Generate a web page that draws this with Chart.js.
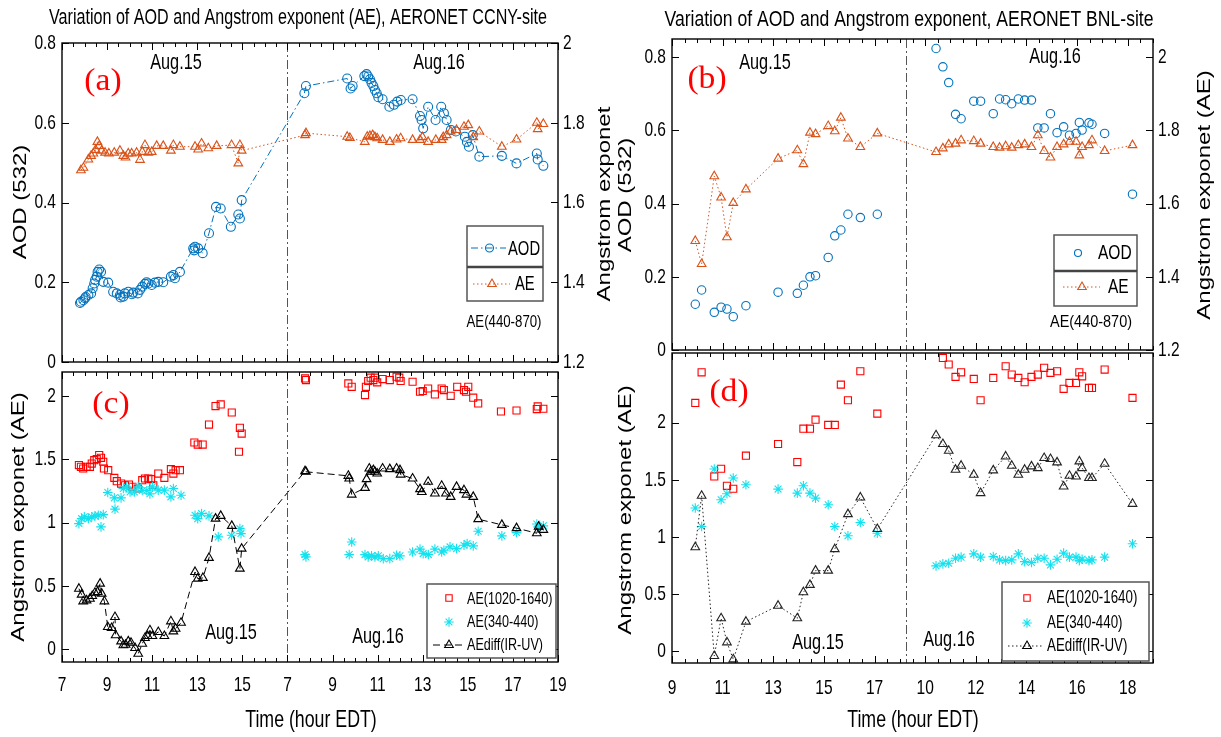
<!DOCTYPE html>
<html lang="en">
<head>
<meta charset="utf-8" />
<title>AOD and Angstrom exponent, AERONET CCNY / BNL</title>
<style>
    html, body { margin: 0; padding: 0; background: #fff; }
    #wrap { position: relative; width: 1221px; height: 737px; }
    #wrap canvas { position: absolute; left: 0; top: 0; }
</style>
</head>
<body>
<div id="wrap">
    <canvas id="pa" width="1221" height="737"></canvas>
    <canvas id="pb" width="1221" height="737"></canvas>
    <canvas id="pc" width="1221" height="737"></canvas>
    <canvas id="pd" width="1221" height="737"></canvas>
</div>

<script src="https://cdn.jsdelivr.net/npm/chart.js@4.4.3/dist/chart.umd.min.js"></script>
<script>
    // ---- CCNY site, panel (a): AOD(532) and AE(440-870), hours EDT ----
    const aodCcny15H = [7.80, 7.84, 7.95, 8.02, 8.05, 8.17, 8.29, 8.36, 8.43, 8.47, 8.54, 8.58, 8.65, 8.73, 8.83, 9.05, 9.27, 9.43, 9.57, 9.60, 9.72, 9.79, 9.94, 10.10, 10.16, 10.36, 10.46, 10.56, 10.68, 10.75, 10.83, 10.98, 11.12, 11.27, 11.49, 11.83, 11.94, 12.01, 12.23, 12.82, 12.86, 12.90, 13.04, 13.24, 13.52, 13.83, 14.04, 14.49, 14.82, 14.89, 14.97];
    const aodCcny15 = [0.148, 0.151, 0.155, 0.160, 0.163, 0.168, 0.172, 0.185, 0.197, 0.206, 0.214, 0.226, 0.232, 0.226, 0.201, 0.199, 0.176, 0.172, 0.168, 0.162, 0.164, 0.172, 0.176, 0.170, 0.174, 0.172, 0.181, 0.189, 0.196, 0.200, 0.197, 0.193, 0.199, 0.201, 0.200, 0.214, 0.218, 0.210, 0.226, 0.285, 0.280, 0.289, 0.285, 0.273, 0.323, 0.389, 0.385, 0.339, 0.370, 0.360, 0.406];
    const aodCcny16H = [7.75, 7.82, 9.65, 9.80, 9.89, 10.41, 10.51, 10.58, 10.66, 10.73, 10.81, 10.88, 10.96, 11.03, 11.22, 11.52, 11.72, 11.87, 12.03, 12.55, 12.88, 12.95, 13.02, 13.24, 13.57, 13.82, 13.94, 14.06, 14.25, 14.47, 14.87, 14.96, 15.05, 15.22, 15.51, 16.51, 17.16, 18.06, 18.10, 18.35];
    const aodCcny16 = [0.674, 0.692, 0.711, 0.686, 0.692, 0.717, 0.722, 0.716, 0.709, 0.700, 0.692, 0.682, 0.674, 0.664, 0.659, 0.640, 0.645, 0.653, 0.657, 0.659, 0.617, 0.607, 0.586, 0.640, 0.607, 0.640, 0.624, 0.607, 0.582, 0.578, 0.565, 0.552, 0.540, 0.569, 0.515, 0.517, 0.498, 0.523, 0.508, 0.492];

    const aeCcny15H = [7.84, 7.95, 8.17, 8.29, 8.39, 8.49, 8.57, 8.65, 8.76, 8.91, 9.08, 9.32, 9.57, 9.72, 9.82, 9.94, 10.09, 10.31, 10.46, 10.56, 10.68, 10.83, 10.98, 11.20, 11.49, 11.83, 11.94, 12.23, 12.90, 13.04, 13.19, 13.49, 13.86, 14.52, 14.82, 14.89, 14.97];
    const aeCcny15 = [1.681, 1.687, 1.708, 1.717, 1.723, 1.732, 1.752, 1.742, 1.730, 1.725, 1.723, 1.725, 1.730, 1.717, 1.713, 1.723, 1.723, 1.725, 1.707, 1.727, 1.744, 1.725, 1.727, 1.742, 1.742, 1.730, 1.744, 1.740, 1.740, 1.733, 1.748, 1.736, 1.742, 1.744, 1.698, 1.744, 1.730];
    const aeCcny16H = [7.78, 7.82, 9.65, 9.77, 10.43, 10.54, 10.66, 10.78, 10.88, 10.98, 11.22, 11.54, 11.84, 12.02, 12.55, 12.88, 12.99, 13.24, 13.58, 13.84, 13.91, 14.06, 14.24, 14.50, 14.83, 15.02, 15.24, 15.51, 16.51, 17.16, 18.06, 18.10, 18.35];
    const aeCcny16 = [1.769, 1.774, 1.765, 1.762, 1.752, 1.765, 1.767, 1.769, 1.764, 1.761, 1.757, 1.752, 1.758, 1.761, 1.757, 1.757, 1.764, 1.752, 1.757, 1.757, 1.764, 1.769, 1.778, 1.782, 1.790, 1.794, 1.764, 1.778, 1.740, 1.758, 1.800, 1.784, 1.797];

    // ---- CCNY site, panel (c): AE(1020-1640), AE(340-440), AEdiff(IR-UV) ----
    const irCcny15H = [7.75, 7.84, 7.94, 8.09, 8.24, 8.32, 8.43, 8.54, 8.65, 8.73, 8.83, 8.86, 9.05, 9.32, 9.43, 9.62, 9.79, 9.97, 10.12, 10.36, 10.56, 10.68, 10.83, 10.95, 11.05, 11.27, 11.54, 11.83, 11.94, 12.04, 12.23, 12.87, 13.02, 13.24, 13.52, 13.81, 14.04, 14.53, 14.85, 14.89, 14.97];
    const irCcny15 = [1.455, 1.441, 1.428, 1.441, 1.441, 1.467, 1.494, 1.502, 1.534, 1.512, 1.481, 1.428, 1.415, 1.354, 1.328, 1.309, 1.296, 1.301, 1.283, 1.270, 1.336, 1.349, 1.349, 1.344, 1.296, 1.388, 1.354, 1.423, 1.388, 1.415, 1.415, 1.633, 1.617, 1.617, 1.775, 1.921, 1.934, 1.870, 1.560, 1.749, 1.704];
    const irCcny16H = [7.78, 7.82, 9.70, 9.85, 10.44, 10.48, 10.58, 10.69, 10.81, 10.88, 10.98, 11.22, 11.54, 11.84, 11.96, 12.02, 12.55, 12.88, 13.00, 13.24, 13.54, 13.84, 13.94, 14.24, 14.53, 14.83, 14.92, 15.02, 15.24, 15.46, 16.47, 17.16, 18.06, 18.10, 18.35];
    const irCcny16 = [2.139, 2.126, 2.100, 2.073, 2.008, 2.073, 2.119, 2.145, 2.126, 2.145, 2.108, 2.134, 2.126, 2.153, 2.145, 2.119, 2.113, 2.034, 2.040, 2.060, 2.013, 2.060, 2.047, 2.002, 2.073, 2.047, 2.034, 2.073, 1.987, 1.942, 1.878, 1.886, 1.897, 1.918, 1.900];

    const uvCcny15H = [7.75, 7.87, 7.99, 8.17, 8.32, 8.46, 8.61, 8.73, 8.83, 9.03, 9.32, 9.35, 9.62, 9.72, 9.87, 10.02, 10.21, 10.38, 10.56, 10.76, 10.90, 11.01, 11.27, 11.54, 11.83, 11.94, 12.28, 12.90, 13.02, 13.19, 13.52, 13.93, 14.52, 14.89, 14.94];
    const uvCcny15 = [0.993, 1.032, 1.046, 1.032, 1.046, 1.054, 1.059, 0.967, 1.064, 1.238, 1.196, 1.107, 1.196, 1.270, 1.283, 1.243, 1.243, 1.283, 1.254, 1.254, 1.228, 1.283, 1.257, 1.257, 1.204, 1.270, 1.217, 1.059, 1.032, 1.072, 1.054, 0.888, 0.901, 0.953, 0.914];
    const uvCcny16H = [7.78, 7.82, 9.74, 9.85, 10.44, 10.58, 10.73, 10.88, 11.03, 11.25, 11.54, 11.84, 11.99, 12.55, 12.88, 13.02, 13.25, 13.54, 13.84, 13.94, 14.21, 14.50, 14.83, 14.97, 15.24, 15.46, 16.51, 17.16, 18.06, 18.14, 18.35];
    const uvCcny16 = [0.748, 0.730, 0.748, 0.848, 0.748, 0.730, 0.738, 0.730, 0.738, 0.716, 0.716, 0.743, 0.738, 0.769, 0.791, 0.756, 0.748, 0.791, 0.769, 0.783, 0.809, 0.795, 0.822, 0.835, 0.817, 0.933, 0.896, 0.922, 0.990, 0.969, 0.975];

    const diffCcny15H = [7.75, 7.87, 7.94, 8.09, 8.24, 8.34, 8.46, 8.58, 8.69, 8.76, 8.88, 9.03, 9.20, 9.35, 9.38, 9.62, 9.72, 9.82, 9.94, 10.06, 10.24, 10.38, 10.56, 10.68, 10.80, 10.90, 11.01, 11.27, 11.54, 11.83, 11.94, 12.04, 12.28, 12.90, 13.02, 13.25, 13.52, 13.81, 14.04, 14.53, 14.89, 14.97];
    const diffCcny15 = [0.479, 0.432, 0.379, 0.387, 0.400, 0.421, 0.447, 0.453, 0.519, 0.440, 0.379, 0.176, 0.168, 0.255, 0.111, 0.063, 0.032, 0.036, 0.063, 0.052, 0.010, -0.035, 0.044, 0.089, 0.105, 0.150, 0.105, 0.137, 0.105, 0.221, 0.142, 0.163, 0.210, 0.611, 0.558, 0.564, 0.722, 1.032, 1.054, 0.975, 0.637, 0.795];
    const diffCcny16H = [7.78, 7.82, 9.70, 9.74, 9.85, 10.44, 10.51, 10.63, 10.69, 10.81, 10.88, 10.98, 11.22, 11.54, 11.84, 11.99, 12.02, 12.55, 12.88, 12.96, 13.24, 13.54, 13.84, 14.03, 14.24, 14.50, 14.83, 14.94, 15.24, 15.46, 16.51, 17.16, 18.06, 18.14, 18.35];
    const diffCcny16 = [1.407, 1.402, 1.370, 1.349, 1.222, 1.275, 1.344, 1.428, 1.402, 1.415, 1.402, 1.388, 1.428, 1.423, 1.428, 1.415, 1.380, 1.349, 1.265, 1.243, 1.323, 1.230, 1.291, 1.230, 1.204, 1.283, 1.257, 1.222, 1.204, 1.028, 0.983, 0.957, 0.917, 0.969, 0.943];

    // ---- BNL site, panels (b) and (d): shared observation hours ----
    const bnl15H = [9.92, 10.17, 10.67, 10.94, 11.17, 11.42, 11.92, 13.19, 13.95, 14.19, 14.45, 14.67, 15.17, 15.43, 15.67, 15.95, 16.44, 17.11];
    const bnl16H = [10.43, 10.70, 10.93, 11.20, 11.42, 11.92, 12.19, 12.69, 12.94, 13.18, 13.42, 13.68, 13.93, 14.20, 14.45, 14.70, 14.95, 15.21, 15.47, 15.70, 15.96, 16.09, 16.20, 16.47, 16.59, 17.09, 18.19];

    const aodBnl15 = [0.125, 0.164, 0.103, 0.117, 0.112, 0.091, 0.121, 0.158, 0.155, 0.177, 0.200, 0.203, 0.253, 0.312, 0.328, 0.371, 0.362, 0.371];
    const aodBnl16 = [0.824, 0.774, 0.731, 0.644, 0.632, 0.680, 0.680, 0.646, 0.686, 0.684, 0.673, 0.686, 0.683, 0.683, 0.607, 0.607, 0.646, 0.594, 0.610, 0.587, 0.592, 0.622, 0.601, 0.621, 0.617, 0.592, 0.426];
    const aeBnl15 = [1.498, 1.435, 1.675, 1.617, 1.508, 1.602, 1.639, 1.723, 1.746, 1.708, 1.794, 1.790, 1.812, 1.798, 1.835, 1.778, 1.755, 1.792];
    const aeBnl16 = [1.741, 1.751, 1.762, 1.764, 1.773, 1.771, 1.764, 1.755, 1.753, 1.757, 1.753, 1.760, 1.762, 1.755, 1.787, 1.744, 1.726, 1.755, 1.762, 1.769, 1.769, 1.732, 1.755, 1.760, 1.773, 1.744, 1.760];

    const irBnl15 = [2.173, 2.441, 1.529, 1.596, 1.447, 1.421, 1.711, 1.813, 1.655, 1.947, 1.947, 2.026, 1.980, 1.980, 2.333, 2.196, 2.450, 2.079];
    const irBnl16 = [null, 2.567, 2.509, 2.401, 2.441, 2.383, 2.196, 2.392, null, 2.494, 2.421, 2.392, 2.354, 2.401, 2.421, 2.480, 2.436, 2.450, 2.296, 2.348, 2.348, 2.441, 2.406, 2.304, 2.304, 2.465, 2.217];
    const uvBnl15 = [1.252, 1.090, 1.594, 1.325, 1.377, 1.515, 1.456, 1.418, 1.383, 1.447, 1.383, 1.339, 1.281, 1.090, null, 1.009, 1.125, 1.032];
    const uvBnl16 = [0.746, 0.763, 0.769, 0.813, 0.822, 0.851, 0.822, 0.827, 0.798, 0.792, 0.798, 0.851, 0.783, 0.775, 0.813, 0.813, 0.754, 0.804, 0.857, 0.822, 0.822, 0.792, 0.804, 0.792, 0.798, 0.822, 0.939];
    const diffBnl15 = [0.909, 1.360, -0.044, 0.287, 0.076, -0.073, 0.257, 0.397, 0.287, 0.515, 0.579, 0.704, 0.704, 0.892, null, 1.199, 1.345, 1.068];
    const diffBnl16 = [1.889, 1.813, 1.754, 1.588, 1.623, 1.544, 1.383, 1.582, null, 1.704, 1.623, 1.544, 1.588, 1.617, 1.602, 1.690, 1.681, 1.652, 1.441, 1.535, 1.529, 1.661, 1.602, 1.515, 1.515, 1.640, 1.289];

    // ---- axis ticks ----
    const ccnyTickLabels = ['7', '9', '11', '13', '15', '7', '9', '11', '13', '15', '17', '19'];
    const bnlTickLabels = ['9', '11', '13', '15', '17', '10', '12', '14', '16', '18'];
    const aodTicks = [0, 0.2, 0.4, 0.6, 0.8];
    const aeRightTicks = [1.2, 1.4, 1.6, 1.8, 2];
    const aeTicks = [0, 0.5, 1, 1.5, 2];

    // day boundary on the joined time axes
    const ccnyDivider = 10;
    const bnlDivider = 9.25;

    // two days are laid side by side on one hour axis
    const ccnyU = (h, day) => day === 15 ? h - 7 : h + 3;
    const bnlU = (h, day) => day === 15 ? h - 9 : h;

    const BLUE = '#0072BD', ORANGE = '#D95319', RED = '#FF0000', CYAN = '#14E2EE', BLACK = '#000000';
    const SANS = "'Liberation Sans', Arial, sans-serif";
    const SERIF = "'Liberation Serif', 'Times New Roman', serif";
    const SX = 0.74; // the figure text is horizontally condensed

    function series(h15, v15, h16, v16, toU) {
        const out = [];
        h15.forEach((h, i) => out.push({ x: toU(h, 15), y: v15[i] }));
        h16.forEach((h, i) => out.push({ x: toU(h, 16), y: v16[i] }));
        return out;
    }

    function dataset(data, color, style, o = {}) {
        return {
            data: data,
            yAxisID: o.axis || 'y',
            showLine: !!o.dash,
            borderColor: color,
            borderWidth: 1,
            borderDash: o.dash || [],
            backgroundColor: 'rgba(0,0,0,0)',
            pointStyle: style,
            pointRadius: o.r || 4.5,
            pointBorderColor: color,
            pointBackgroundColor: 'rgba(0,0,0,0)',
            pointBorderWidth: 1.1,
            spanGaps: true,
            tension: 0
        };
    }

    function yScale(min, max, ticks, position) {
        return {
            type: 'linear', position: position, min: min, max: max,
            grid: { display: false, drawTicks: false },
            border: { display: false },
            ticks: { display: false },
            afterBuildTicks: s => { s.ticks = ticks.map(v => ({ value: v })); },
            afterFit: s => { s.width = 0; }
        };
    }

    function xScale(max) {
        return {
            type: 'linear', position: 'bottom', min: 0, max: max,
            grid: { display: false, drawTicks: false },
            border: { display: false },
            ticks: { display: false, stepSize: 2 },
            // keep only the 2-hour majors (drop the added max bound)
            afterBuildTicks: s => { s.ticks = s.ticks.filter(t => Math.abs(t.value % 2) < 1e-6); },
            afterFit: s => { s.height = 0; }
        };
    }

    // horizontal text, condensed like the source figure; rotated text is condensed across
    function txt(ctx, s, x, y, size, o = {}) {
        ctx.save();
        ctx.font = size + 'px ' + (o.family || SANS);
        ctx.fillStyle = o.color || '#000';
        ctx.textAlign = o.align || 'center';
        ctx.textBaseline = 'middle';
        ctx.translate(x, y);
        let sx = o.sx || SX;
        if (o.width) sx = o.width / ctx.measureText(s).width;
        if (o.rot) {
            ctx.rotate(-Math.PI / 2);
            ctx.scale(1, sx);
        } else {
            ctx.scale(sx, 1);
        }
        ctx.fillText(s, 0, 0);
        ctx.restore();
    }

    function mark(ctx, style, x, y, r, color) {
        ctx.save();
        ctx.setLineDash([]);
        ctx.strokeStyle = color;
        ctx.fillStyle = 'rgba(0,0,0,0)';
        ctx.lineWidth = 1.1;
        Chart.helpers.drawPoint(ctx, { pointStyle: style, radius: r, rotation: 0, borderWidth: 1.1 }, x, y);
        ctx.restore();
    }

    function seg(ctx, x1, x2, y, color, dash) {
        ctx.save();
        ctx.strokeStyle = color;
        ctx.lineWidth = 1;
        ctx.setLineDash(dash);
        ctx.beginPath();
        ctx.moveTo(x1, y);
        ctx.lineTo(x2, y);
        ctx.stroke();
        ctx.restore();
    }

    function box(ctx, l, t, r, b, mid) {
        ctx.save();
        ctx.fillStyle = '#fff';
        ctx.fillRect(l, t, r - l, b - t);
        ctx.strokeStyle = '#555';
        ctx.lineWidth = 1.5;
        ctx.strokeRect(l, t, r - l, b - t);
        if (mid) {
            ctx.strokeStyle = '#444';
            ctx.lineWidth = 2.5;
            ctx.beginPath();
            ctx.moveTo(l, mid);
            ctx.lineTo(r, mid);
            ctx.stroke();
        }
        ctx.restore();
    }

    const fmt = v => String(+v.toFixed(2));

    function drawPanel(chart, spec) {
        const { ctx, chartArea: a, scales } = chart;
        const x = scales.x, y = scales.y, y2 = scales.y2;
        ctx.save();

        // day divider
        const dx = Math.round(x.getPixelForValue(spec.divider)) + 0.5;
        ctx.strokeStyle = '#555';
        ctx.lineWidth = 1;
        ctx.setLineDash([9, 3, 2, 3]);
        ctx.beginPath();
        ctx.moveTo(dx, a.top);
        ctx.lineTo(dx, a.bottom);
        ctx.stroke();
        ctx.setLineDash([]);

        // axes box with inward ticks
        ctx.strokeStyle = '#000';
        ctx.lineWidth = 1.4;
        ctx.strokeRect(a.left, a.top, a.right - a.left, a.bottom - a.top);
        ctx.lineWidth = 1;
        ctx.beginPath();
        const major = x.ticks.map(t => t.value);
        for (let u = x.min; u <= x.max + 1e-9; u += 0.5) {
            const px = Math.round(x.getPixelForValue(u)) + 0.5;
            const len = major.some(m => Math.abs(m - u) < 1e-6) ? 7 : 4;
            ctx.moveTo(px, a.bottom);
            ctx.lineTo(px, a.bottom - len);
            ctx.moveTo(px, a.top);
            ctx.lineTo(px, a.top + len);
        }
        const rightScale = y2 || y;
        y.ticks.forEach(t => {
            const py = Math.round(y.getPixelForValue(t.value)) + 0.5;
            ctx.moveTo(a.left, py);
            ctx.lineTo(a.left + 7, py);
        });
        rightScale.ticks.forEach(t => {
            const py = Math.round(rightScale.getPixelForValue(t.value)) + 0.5;
            ctx.moveTo(a.right, py);
            ctx.lineTo(a.right - 7, py);
        });
        ctx.stroke();

        // tick labels
        y.ticks.forEach(t => txt(ctx, fmt(t.value), a.left - 6, y.getPixelForValue(t.value), 21, { align: 'right' }));
        if (y2) {
            y2.ticks.forEach(t => txt(ctx, fmt(t.value), a.right + 5, y2.getPixelForValue(t.value), 21, { align: 'left' }));
        }
        if (spec.xLabels) {
            x.ticks.forEach((t, i) => txt(ctx, spec.xLabels[i], x.getPixelForValue(t.value), a.bottom + spec.xGap, 21));
        }

        spec.extra(ctx, a);
        ctx.restore();
    }

    function makeChart(id, datasets, scales, padding, spec) {
        return new Chart(document.getElementById(id), {
            type: 'line',
            data: { datasets: datasets },
            options: {
                responsive: false,
                animation: false,
                devicePixelRatio: 1,
                layout: { padding: padding },
                plugins: { legend: { display: false }, tooltip: { enabled: false }, title: { display: false } },
                scales: scales
            },
            plugins: [{ id: 'panel' + id, afterDatasetsDraw: chart => drawPanel(chart, spec) }]
        });
    }

    // ---------------- (a) ----------------
    makeChart('pa', [
        dataset(series(aeCcny15H, aeCcny15, aeCcny16H, aeCcny16, ccnyU), ORANGE, 'triangle', { axis: 'y2', dash: [1.5, 2.5], r: 5 }),
        dataset(series(aodCcny15H, aodCcny15, aodCcny16H, aodCcny16, ccnyU), BLUE, 'circle', { dash: [7, 3, 1.5, 3], r: 4.5 })
    ], {
        x: xScale(22),
        y: yScale(0, 0.8, aodTicks, 'left'),
        y2: yScale(1.2, 2.0, aeRightTicks, 'right')
    }, { left: 62, top: 43, right: 1221 - 558, bottom: 737 - 362 }, {
        divider: ccnyDivider,
        xLabels: null,
        extra: (ctx) => {
            txt(ctx, 'Variation of AOD and Angstrom exponent (AE), AERONET CCNY-site', 298, 18, 22, { width: 498 });
            txt(ctx, '(a)', 103, 82, 32, { family: SERIF, color: RED, sx: 1.05 });
            txt(ctx, 'Aug.15', 176, 63, 22);
            txt(ctx, 'Aug.16', 439, 63, 22);
            txt(ctx, 'AOD (532)', 21, 202, 24, { rot: true });
            txt(ctx, 'Angstrom exponet', 605, 204, 24, { rot: true });
            box(ctx, 467, 226, 543, 301, 267);
            seg(ctx, 471, 506, 248, BLUE, [7, 3, 1.5, 3]);
            mark(ctx, 'circle', 489.5, 248, 4, BLUE);
            txt(ctx, 'AOD', 508, 249, 20, { align: 'left' });
            seg(ctx, 473, 510, 284, ORANGE, [1.5, 2.5]);
            mark(ctx, 'triangle', 492, 284, 5, ORANGE);
            txt(ctx, 'AE', 515, 284, 20, { align: 'left' });
            txt(ctx, 'AE(440-870)', 504, 323, 16, { width: 75 });
        }
    });

    // ---------------- (b) ----------------
    makeChart('pb', [
        dataset(series(bnl15H, aeBnl15, bnl16H, aeBnl16, bnlU), ORANGE, 'triangle', { axis: 'y2', dash: [1.5, 2.5], r: 5 }),
        dataset(series(bnl15H, aodBnl15, bnl16H, aodBnl16, bnlU), BLUE, 'circle', { r: 4.2 })
    ], {
        x: xScale(19),
        y: yScale(0, 0.85, aodTicks, 'left'),
        y2: yScale(1.2, 2.05, aeRightTicks, 'right')
    }, { left: 672, top: 39, right: 1221 - 1153, bottom: 737 - 350 }, {
        divider: bnlDivider,
        xLabels: null,
        extra: (ctx) => {
            txt(ctx, 'Variation of AOD and Angstrom exponent, AERONET BNL-site', 909, 20, 22, { width: 489 });
            txt(ctx, '(b)', 707, 80, 32, { family: SERIF, color: RED, sx: 1.05 });
            txt(ctx, 'Aug.15', 765, 63, 22);
            txt(ctx, 'Aug.16', 1055, 57, 22);
            txt(ctx, 'AOD (532)', 626, 195, 24, { rot: true });
            txt(ctx, 'Angstrom exponet (AE)', 1205, 195, 24, { rot: true });
            box(ctx, 1054, 235, 1137, 306, 271);
            mark(ctx, 'circle', 1078, 253, 3.5, BLUE);
            txt(ctx, 'AOD', 1098, 253, 21, { align: 'left' });
            seg(ctx, 1063, 1100, 287, ORANGE, [1.5, 2.5]);
            mark(ctx, 'triangle', 1082, 287, 5, ORANGE);
            txt(ctx, 'AE', 1108, 287, 21, { align: 'left' });
            txt(ctx, 'AE(440-870)', 1091, 323, 16, { width: 82 });
        }
    });

    // ---------------- (c) ----------------
    makeChart('pc', [
        dataset(series(diffCcny15H, diffCcny15, diffCcny16H, diffCcny16, ccnyU), BLACK, 'triangle', { dash: [7, 4], r: 5 }),
        dataset(series(uvCcny15H, uvCcny15, uvCcny16H, uvCcny16, ccnyU), CYAN, 'star', { r: 4.8 }),
        dataset(series(irCcny15H, irCcny15, irCcny16H, irCcny16, ccnyU), RED, 'rect', { r: 5 })
    ], {
        x: xScale(22),
        y: yScale(-0.1, 2.19, aeTicks, 'left')
    }, { left: 62, top: 372, right: 1221 - 558, bottom: 737 - 662 }, {
        divider: ccnyDivider,
        xLabels: ccnyTickLabels,
        xGap: 23.5,
        extra: (ctx) => {
            txt(ctx, '(c)', 111, 405, 32, { family: SERIF, color: RED, sx: 1.05 });
            txt(ctx, 'Aug.15', 231, 633, 22);
            txt(ctx, 'Aug.16', 378, 637, 22);
            txt(ctx, 'Angstrom exponet (AE)', 19, 517, 24, { rot: true });
            txt(ctx, 'Time (hour EDT)', 311, 720, 24);
            box(ctx, 427, 584, 556, 658, 0);
            mark(ctx, 'rect', 449, 598, 4.5, RED);
            txt(ctx, 'AE(1020-1640)', 467, 599, 17, { align: 'left' });
            mark(ctx, 'star', 449, 622, 4.8, CYAN);
            txt(ctx, 'AE(340-440)', 467, 622, 17, { align: 'left' });
            seg(ctx, 433, 464, 645, BLACK, [7, 4]);
            mark(ctx, 'triangle', 449, 645, 5, BLACK);
            txt(ctx, 'AEdiff(IR-UV)', 467, 645, 17, { align: 'left' });
        }
    });

    // ---------------- (d) ----------------
    makeChart('pd', [
        dataset(series(bnl15H, diffBnl15, bnl16H, diffBnl16, bnlU), '#222', 'triangle', { dash: [1.5, 2.5], r: 5 }),
        dataset(series(bnl15H, uvBnl15, bnl16H, uvBnl16, bnlU), CYAN, 'star', { r: 4.8 }),
        dataset(series(bnl15H, irBnl15, bnl16H, irBnl16, bnlU), RED, 'rect', { r: 5 })
    ], {
        x: xScale(19),
        y: yScale(-0.105, 2.61, aeTicks, 'left')
    }, { left: 672, top: 353, right: 1221 - 1153, bottom: 737 - 663 }, {
        divider: bnlDivider,
        xLabels: bnlTickLabels,
        xGap: 25,
        extra: (ctx) => {
            txt(ctx, '(d)', 729, 393, 32, { family: SERIF, color: RED, sx: 1.05 });
            txt(ctx, 'Aug.15', 818, 643, 22);
            txt(ctx, 'Aug.16', 949, 640, 22);
            txt(ctx, 'Angstrom exponet (AE)', 626, 510, 24, { rot: true });
            txt(ctx, 'Time (hour EDT)', 913, 720, 24);
            box(ctx, 1002, 582, 1149, 661, 0);
            mark(ctx, 'rect', 1027, 598, 4.5, RED);
            txt(ctx, 'AE(1020-1640)', 1047, 598, 18, { align: 'left' });
            mark(ctx, 'star', 1027, 623, 4.8, CYAN);
            txt(ctx, 'AE(340-440)', 1047, 623, 18, { align: 'left' });
            seg(ctx, 1008, 1043, 646, '#222', [1.5, 2.5]);
            mark(ctx, 'triangle', 1027, 646, 5, BLACK);
            txt(ctx, 'AEdiff(IR-UV)', 1047, 646, 18, { align: 'left' });
        }
    });
</script>
</body>
</html>
